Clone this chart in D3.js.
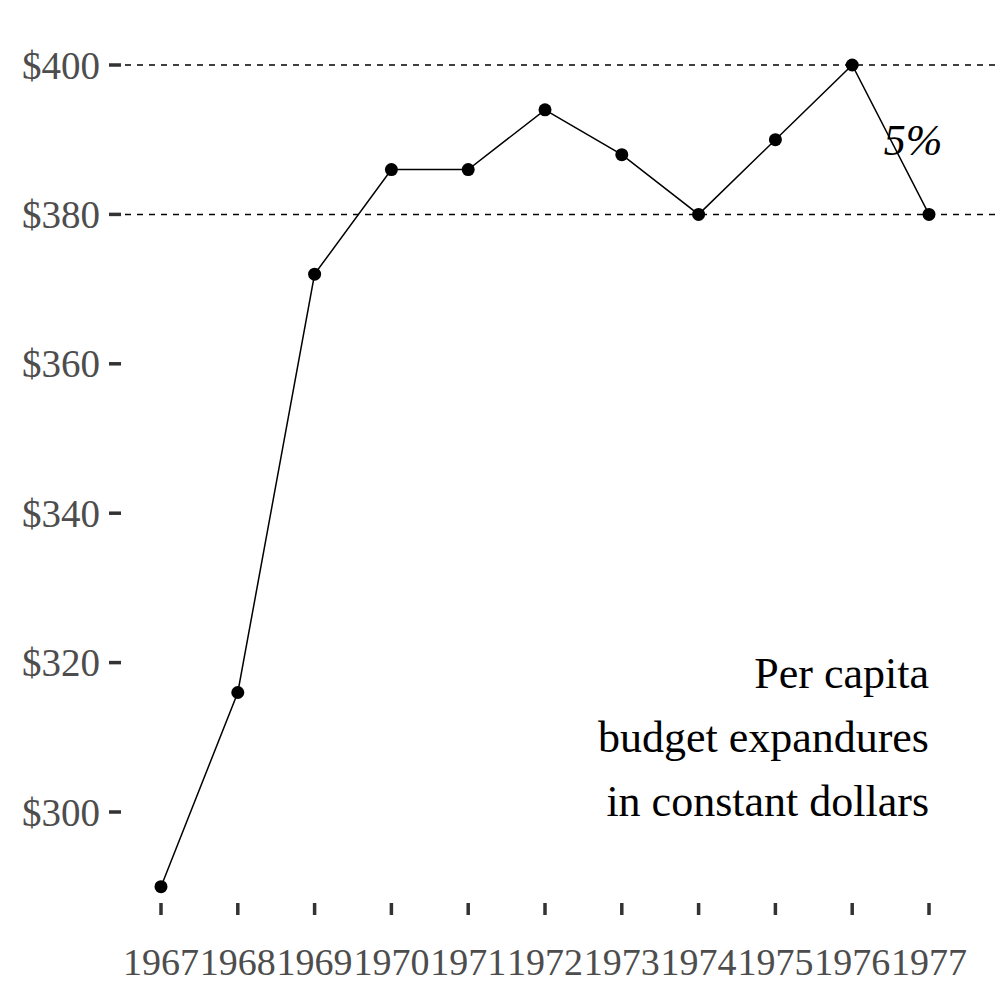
<!DOCTYPE html>
<html><head><meta charset="utf-8">
<script src="https://cdn.jsdelivr.net/npm/d3@7"></script>
<style>body{margin:0;background:#fff}</style>
</head><body><div id="chart"></div>
<script>
var years = [1967,1968,1969,1970,1971,1972,1973,1974,1975,1976,1977];
var spend = [290,316,372,386,386,394,388,380,390,400,380];
var yTicks = [300,320,340,360,380,400];
var refLines = [380,400];
var note = ["Per capita","budget expandures","in constant dollars"];

var W = 1008, H = 1008;
var svg = d3.select("#chart").append("svg").attr("width", W).attr("height", H)
  .style("font-family", "'Liberation Serif', 'DejaVu Serif', serif");

var x = d3.scaleLinear().domain([1967,1977]).range([161,929]);
var y = d3.scaleLinear().domain([300,400]).range([812,65]);

// y axis ticks
var yg = svg.append("g");
yg.selectAll("line").data(yTicks).join("line")
  .attr("x1",109).attr("x2",121).attr("y1",d=>y(d)).attr("y2",d=>y(d))
  .attr("stroke","#333").attr("stroke-width",3.5);
yg.selectAll("text").data(yTicks).join("text")
  .attr("x",100).attr("y",d=>y(d)).attr("dy","0.35em").attr("text-anchor","end")
  .attr("fill","#4d4d4d").style("font-size","39px").text(d=>"$"+d);

// x axis ticks
var xg = svg.append("g");
xg.selectAll("line").data(years).join("line")
  .attr("x1",d=>x(d)).attr("x2",d=>x(d)).attr("y1",903).attr("y2",915)
  .attr("stroke","#333").attr("stroke-width",3.5);
xg.selectAll("text").data(years).join("text")
  .attr("x",d=>x(d)).attr("y",975).attr("text-anchor","middle")
  .attr("fill","#4d4d4d").style("font-size","38px").text(d=>d);

// reference lines
svg.selectAll(".ref").data(refLines).join("line")
  .attr("x1",125).attr("x2",1000).attr("y1",d=>y(d)).attr("y2",d=>y(d))
  .attr("stroke","#000").attr("stroke-width",1.5).attr("stroke-dasharray","6,6");

var pts = years.map((d,i)=>[d,spend[i]]);
svg.append("path").datum(pts)
  .attr("d", d3.line().x(d=>x(d[0])).y(d=>y(d[1])))
  .attr("fill","none").attr("stroke","#000").attr("stroke-width",1.5);
svg.selectAll(".pt").data(pts).join("circle")
  .attr("cx",d=>x(d[0])).attr("cy",d=>y(d[1])).attr("r",6.5).attr("fill","#000");

svg.append("text").attr("x",913).attr("y",155).attr("text-anchor","middle")
  .style("font-size","44px").style("font-style","italic").text("5%");

svg.selectAll(".note").data(note).join("text")
  .attr("x",929).attr("y",(d,i)=>688+i*64).attr("text-anchor","end")
  .style("font-size","44px").text(d=>d);
</script></body></html>
